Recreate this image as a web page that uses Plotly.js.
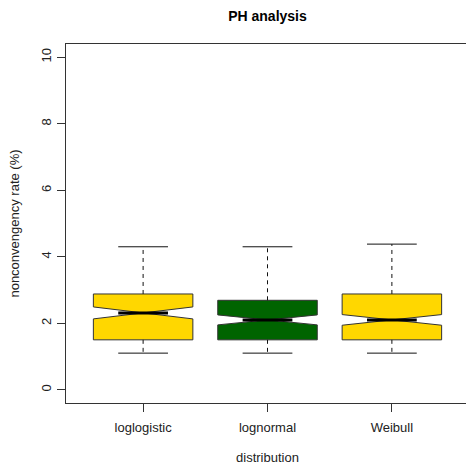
<!DOCTYPE html>
<html>
<head>
<meta charset="utf-8">
<script src="https://cdn.plot.ly/plotly-3.0.1.min.js"></script>
<style>
html,body{margin:0;padding:0;overflow:hidden;background:#fff;width:466px;height:470px;}
#chart{width:472px;height:470px;}
</style>
</head>
<body>
<div id="chart"></div>
<script>
var categories = ['loglogistic', 'lognormal', 'Weibull'];
var lowerWhisker = [1.1, 1.1, 1.1];
var q1Values = [1.5, 1.5, 1.5];
var medianValues = [2.31, 2.1, 2.1];
var q3Values = [2.88, 2.69, 2.88];
var upperWhisker = [4.3, 4.3, 4.38];
var notchSpans = [0.18, 0.15, 0.16];
var fillColors = ['#FFD700', '#006400', '#FFD700'];
var yTickValues = [0, 2, 4, 6, 8, 10];

var boxHalf = 0.4;
var capHalf = 0.2;
var positions = categories.map(function (c, i) { return i + 1; });

var traces = [];
categories.forEach(function (c, i) {
  traces.push({
    type: 'box',
    name: c,
    x: [positions[i]],
    q1: [q1Values[i]],
    median: [medianValues[i]],
    q3: [q3Values[i]],
    lowerfence: [q1Values[i]],
    upperfence: [q3Values[i]],
    notched: true,
    notchspan: [notchSpans[i]],
    notchwidth: 0.5,
    width: 2 * boxHalf,
    whiskerwidth: 0,
    boxpoints: false,
    fillcolor: fillColors[i],
    line: {color: '#333333', width: 1},
    hoverinfo: 'skip',
    showlegend: false
  });
});

// whiskers (dashed)
var wx = [], wy = [];
categories.forEach(function (c, i) {
  wx.push(positions[i], positions[i], null, positions[i], positions[i], null);
  wy.push(q3Values[i], upperWhisker[i], null, q1Values[i], lowerWhisker[i], null);
});
traces.push({type: 'scatter', mode: 'lines', x: wx, y: wy, connectgaps: false,
  line: {color: '#111', width: 1, dash: '4px,4px'}, hoverinfo: 'skip', showlegend: false});

// caps
var cx = [], cy = [];
categories.forEach(function (c, i) {
  cx.push(positions[i] - capHalf, positions[i] + capHalf, null, positions[i] - capHalf, positions[i] + capHalf, null);
  cy.push(upperWhisker[i], upperWhisker[i], null, lowerWhisker[i], lowerWhisker[i], null);
});
traces.push({type: 'scatter', mode: 'lines', x: cx, y: cy, connectgaps: false,
  line: {color: '#111', width: 1}, hoverinfo: 'skip', showlegend: false});

// thick medians
var mx = [], my = [];
categories.forEach(function (c, i) {
  mx.push(positions[i] - boxHalf * 0.5, positions[i] + boxHalf * 0.5, null);
  my.push(medianValues[i], medianValues[i], null);
});
traces.push({type: 'scatter', mode: 'lines', x: mx, y: my, connectgaps: false,
  line: {color: '#000', width: 3}, hoverinfo: 'skip', showlegend: false});

var font = {family: 'Liberation Sans, Arial, sans-serif', size: 13, color: '#222'};

var layout = {
  width: 472,
  height: 470,
  margin: {l: 66, r: 3, t: 44, b: 67},
  paper_bgcolor: '#fff',
  plot_bgcolor: '#fff',
  font: font,
  boxmode: 'overlay',
  title: {
    text: '<b>PH analysis</b>',
    font: {family: 'Liberation Sans, Arial, sans-serif', size: 14, color: '#000'},
    x: 0.5, xref: 'paper', xanchor: 'center',
    y: 1 - 16 / 470, yref: 'container', yanchor: 'middle'
  },
  xaxis: {
    range: [0.38, 3.62],
    tickmode: 'array',
    tickvals: positions,
    ticktext: categories,
    ticks: 'outside', ticklen: 8, tickcolor: '#333', tickwidth: 1,
    ticklabelstandoff: 4,
    showgrid: false, zeroline: false,
    showline: true, linecolor: '#333', linewidth: 1, mirror: true,
    tickfont: font,
    title: {text: 'distribution', font: font, standoff: 19}
  },
  yaxis: {
    range: [-0.4, 10.4],
    tickmode: 'array',
    tickvals: yTickValues,
    ticktext: yTickValues.map(String),
    tickangle: -90,
    ticks: 'outside', ticklen: 8, tickcolor: '#333', tickwidth: 1,
    ticklabelstandoff: 1,
    showgrid: false, zeroline: false,
    showline: true, linecolor: '#333', linewidth: 1, mirror: true,
    tickfont: font,
    title: {text: 'nonconvengency rate (%)', font: font, standoff: 16}
  }
};

Plotly.newPlot('chart', traces, layout, {displayModeBar: false, staticPlot: true});
</script>
</body>
</html>
